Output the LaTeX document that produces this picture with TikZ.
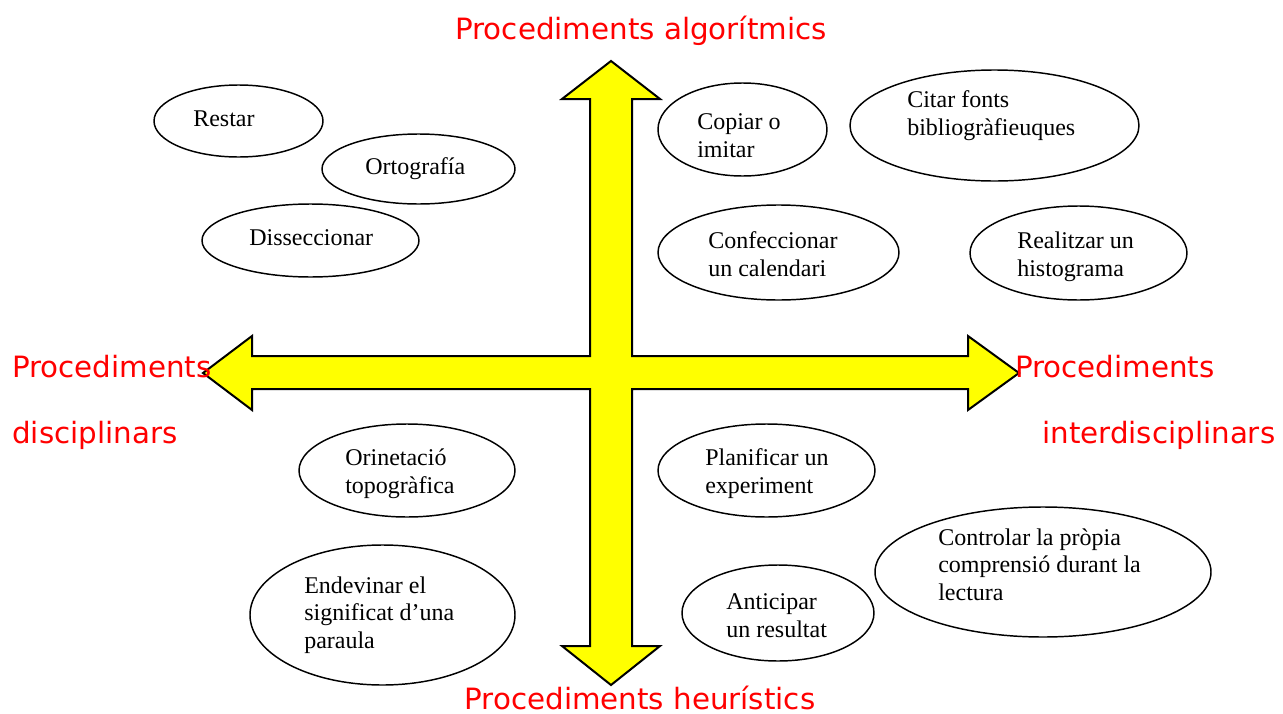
\documentclass[tikz,border=0pt]{standalone}
\usepackage{fontspec}
\setmainfont{Liberation Serif}
\newfontfamily\labelfont{DejaVu Sans}
\usepackage{tikz}
\usetikzlibrary{shapes.geometric}
\definecolor{myellow}{HTML}{FFFF00}
\definecolor{mred}{HTML}{FF0000}
\tikzset{
  bubble/.style 2 args={draw, ellipse, line width=1.1pt, minimum width=#1*0.75pt, minimum height=#2*0.75pt, inner sep=0pt},
  txt/.style={anchor=base west, align=left, inner sep=0pt, font=\fontsize{18}{20.5}\selectfont},
  heading/.style={text=mred, inner sep=0pt, font=\labelfont\fontsize{22}{26}\selectfont},
}

\begin{document}
\begin{tikzpicture}[x=0.75pt, y=-0.75pt]
        \useasboundingbox[fill=white] (0, 0) rectangle (1283, 714);
        % the cross of arrows
        \draw[line width=1.5pt, fill=myellow, line join=miter]
            (611, 61) -- (660, 99) -- (632, 99) -- (632, 356) -- (968, 356) -- (968, 336)
            -- (1019, 373) -- (968, 410) -- (968, 389) -- (632, 389) -- (632, 646) -- (660, 646)
            -- (611, 685) -- (562, 646) -- (590, 646) -- (590, 389) -- (252, 389) -- (252, 410)
            -- (203, 373) -- (252, 336) -- (252, 356) -- (590, 356) -- (590, 99) -- (562, 99) -- cycle;

        % axis labels
        \node[heading, anchor=base] (algor) at (641, 39) {Procediments algorítmics};
        \node[heading, anchor=base] (heur) at (640, 709) {Procediments heurístics};
        \node[heading, anchor=base west] (disc1) at (12, 377) {Procediments};
        \node[heading, anchor=base west] (disc2) at (12, 443) {disciplinars};
        \node[heading, anchor=base west] (inter1) at (1015, 377) {Procediments};
        \node[heading, anchor=base west] (inter2) at (1042, 443) {interdisciplinars};

        % ellipses
        \node[bubble={169}{72}] (restar) at (238.5, 121) {};
        \node[bubble={193}{70}] (orto) at (418.5, 169) {};
        \node[bubble={217}{73}] (disse) at (310.5, 240.5) {};
        \node[bubble={169}{93}] (copiar) at (742.5, 129.5) {};
        \node[bubble={289}{111}] (citar) at (994.5, 125.5) {};
        \node[bubble={241}{95}] (confec) at (778.5, 252.5) {};
        \node[bubble={217}{94}] (realit) at (1078.5, 253) {};
        \node[bubble={216}{93}] (orien) at (407, 470.5) {};
        \node[bubble={217}{93}] (planif) at (766.5, 470.5) {};
        \node[bubble={265}{140}] (endev) at (382.5, 615) {};
        \node[bubble={336}{130}] (contr) at (1043, 572) {};
        \node[bubble={192}{96}] (antic) at (778, 613) {};

        % texts in the ellipses (base = last line)
        \node[txt] (restart) at (193, 126) {Restar};
        \node[txt] (ortot) at (365, 174) {Ortografía};
        \node[txt] (disset) at (249, 245) {Disseccionar};
        \node[txt] (copiart) at (697, 157) {Copiar o\\imitar};
        \node[txt] (citart) at (907, 135) {Citar fonts\\bibliogràfieuques};
        \node[txt] (confect) at (708, 276) {Confeccionar\\un calendari};
        \node[txt] (realitt) at (1017, 276) {Realitzar un\\histograma};
        \node[txt] (orient) at (345, 493) {Orinetació\\topogràfica};
        \node[txt] (planift) at (705, 493) {Planificar un\\experiment};
        \node[txt] (endevt) at (304, 648) {Endevinar el\\significat d’una\\paraula};
        \node[txt] (contrt) at (938, 600) {Controlar la pròpia\\comprensió durant la\\lectura};
        \node[txt] (antict) at (726, 637) {Anticipar\\un resultat};
    \end{tikzpicture}
\end{document}
